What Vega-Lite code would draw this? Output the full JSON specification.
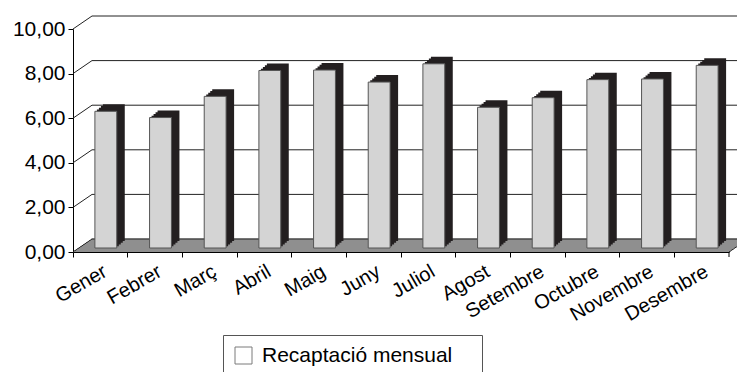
{
  "$schema": "https://vega.github.io/schema/vega-lite/v6.json",
  "autosize": {"type": "none"},
  "width": 656,
  "height": 223,
  "padding": {"left": 73, "top": 29, "right": 8, "bottom": 120},
  "background": "white",
  "config": {"font": "Liberation Sans", "view": {"stroke": null}},
  "datasets": {
    "mesos": [
      {"mes": "Gener", "valor": 6.13},
      {"mes": "Febrer", "valor": 5.85},
      {"mes": "Març", "valor": 6.80},
      {"mes": "Abril", "valor": 7.96},
      {"mes": "Maig", "valor": 7.98},
      {"mes": "Juny", "valor": 7.44},
      {"mes": "Juliol", "valor": 8.26},
      {"mes": "Agost", "valor": 6.31},
      {"mes": "Setembre", "valor": 6.74},
      {"mes": "Octubre", "valor": 7.55},
      {"mes": "Novembre", "valor": 7.58},
      {"mes": "Desembre", "valor": 8.19}
    ],
    "grid": [{"v": 0}, {"v": 2}, {"v": 4}, {"v": 6}, {"v": 8}, {"v": 10}],
    "serie": [{"s": "Recaptació mensual"}]
  },
  "layer": [
    {
      "data": {"name": "serie"},
      "mark": {"type": "square", "fill": "white", "size": 4, "yOffset": -6, "strokeWidth": 1},
      "encoding": {
        "x": {"datum": "Gener", "type": "nominal"},
        "y": {"datum": 0, "type": "quantitative", "scale": {"domain": [0, 10], "nice": false}},
        "stroke": {
          "field": "s", "type": "nominal",
          "scale": {"range": ["#444444"]},
          "legend": {
            "title": "\u00a0", "titleOrient": "right", "titleFontSize": 21, "titlePadding": 20,
            "orient": "none", "legendX": 150, "legendY": 306,
            "strokeColor": "#555555", "padding": 10, "fillColor": "white",
            "labelFontSize": 21, "labelColor": "black", "symbolSize": 289,
            "symbolType": "square", "symbolStrokeWidth": 1, "symbolFillColor": "white",
            "labelOffset": 8, "labelLimit": 400
          }
        }
      }
    },
    {"data": {"name": "serie"}, "mark": {"type": "rule", "color": "#8f8f8f", "strokeWidth": 2, "xOffset": 1.46, "x2Offset": 1.46, "yOffset": -1, "y2Offset": -1}, "encoding": {"x": {"datum": "Gener", "type": "nominal", "bandPosition": 0}, "x2": {"datum": "Desembre", "bandPosition": 1}, "y": {"datum": 0, "type": "quantitative"}, "y2": {"datum": 0}}},
    {"data": {"name": "serie"}, "mark": {"type": "rule", "color": "#8f8f8f", "strokeWidth": 2, "xOffset": 4.38, "x2Offset": 4.38, "yOffset": -3, "y2Offset": -3}, "encoding": {"x": {"datum": "Gener", "type": "nominal", "bandPosition": 0}, "x2": {"datum": "Desembre", "bandPosition": 1}, "y": {"datum": 0, "type": "quantitative"}, "y2": {"datum": 0}}},
    {"data": {"name": "serie"}, "mark": {"type": "rule", "color": "#8f8f8f", "strokeWidth": 2, "xOffset": 7.3, "x2Offset": 7.3, "yOffset": -5, "y2Offset": -5}, "encoding": {"x": {"datum": "Gener", "type": "nominal", "bandPosition": 0}, "x2": {"datum": "Desembre", "bandPosition": 1}, "y": {"datum": 0, "type": "quantitative"}, "y2": {"datum": 0}}},
    {"data": {"name": "serie"}, "mark": {"type": "rule", "color": "#8f8f8f", "strokeWidth": 2, "xOffset": 10.2, "x2Offset": 10.2, "yOffset": -7, "y2Offset": -7}, "encoding": {"x": {"datum": "Gener", "type": "nominal", "bandPosition": 0}, "x2": {"datum": "Desembre", "bandPosition": 1}, "y": {"datum": 0, "type": "quantitative"}, "y2": {"datum": 0}}},
    {"data": {"name": "serie"}, "mark": {"type": "rule", "color": "#8f8f8f", "strokeWidth": 2, "xOffset": 13.15, "x2Offset": 13.15, "yOffset": -9, "y2Offset": -9}, "encoding": {"x": {"datum": "Gener", "type": "nominal", "bandPosition": 0}, "x2": {"datum": "Desembre", "bandPosition": 1}, "y": {"datum": 0, "type": "quantitative"}, "y2": {"datum": 0}}},
    {"data": {"name": "serie"}, "mark": {"type": "rule", "color": "#8f8f8f", "strokeWidth": 2, "xOffset": 16.1, "x2Offset": 16.1, "yOffset": -11, "y2Offset": -11}, "encoding": {"x": {"datum": "Gener", "type": "nominal", "bandPosition": 0}, "x2": {"datum": "Desembre", "bandPosition": 1}, "y": {"datum": 0, "type": "quantitative"}, "y2": {"datum": 0}}},
    {"data": {"name": "serie"}, "mark": {"type": "rule", "color": "#8f8f8f", "strokeWidth": 2, "xOffset": 18.3, "x2Offset": 18.3, "yOffset": -12.5, "y2Offset": -12.5}, "encoding": {"x": {"datum": "Gener", "type": "nominal", "bandPosition": 0}, "x2": {"datum": "Desembre", "bandPosition": 1}, "y": {"datum": 0, "type": "quantitative"}, "y2": {"datum": 0}}},
    {
      "data": {"name": "grid"},
      "mark": {"type": "rule", "color": "#222222", "strokeWidth": 1, "xOffset": 19, "x2Offset": 19, "yOffset": -13, "y2Offset": -13},
      "encoding": {
        "x": {"datum": "Gener", "type": "nominal", "bandPosition": 0},
        "x2": {"datum": "Desembre", "bandPosition": 1},
        "y": {"field": "v", "type": "quantitative"},
        "y2": {"field": "v"}
      }
    },
    {
      "data": {"name": "grid"},
      "mark": {"type": "rule", "color": "#222222", "strokeWidth": 1, "x2Offset": 19, "y2Offset": -13},
      "encoding": {
        "x": {"datum": "Gener", "type": "nominal", "bandPosition": 0},
        "x2": {"datum": "Gener", "bandPosition": 0},
        "y": {"field": "v", "type": "quantitative"},
        "y2": {"field": "v"}
      }
    },
    {
      "data": {"name": "serie"},
      "mark": {"type": "rule", "color": "#222222", "strokeWidth": 1, "x2Offset": 19, "y2Offset": -13},
      "encoding": {
        "x": {"datum": "Desembre", "type": "nominal", "bandPosition": 1},
        "x2": {"datum": "Desembre", "bandPosition": 1},
        "y": {"datum": 0, "type": "quantitative"},
        "y2": {"datum": 0}
      }
    },
    {
      "data": {"name": "serie"},
      "mark": {"type": "rule", "color": "black", "strokeWidth": 1, "y2Offset": 5},
      "encoding": {
        "x": {"datum": "Desembre", "type": "nominal", "bandPosition": 1},
        "y": {"datum": 0, "type": "quantitative"},
        "y2": {"datum": 0}
      }
    },
    {"data": {"name": "mesos"}, "mark": {"type": "bar", "color": "#231f20", "width": {"band": 0.4}, "xOffset": 7.5, "yOffset": -5.75, "y2Offset": -5.75}, "encoding": {"x": {"field": "mes", "type": "nominal", "sort": null}, "y": {"field": "valor", "type": "quantitative"}}},
    {"data": {"name": "mesos"}, "mark": {"type": "bar", "color": "#231f20", "width": {"band": 0.4}, "xOffset": 9.5, "yOffset": -7.5, "y2Offset": -7.5}, "encoding": {"x": {"field": "mes", "type": "nominal", "sort": null}, "y": {"field": "valor", "type": "quantitative"}}},
    {"data": {"name": "mesos"}, "mark": {"type": "bar", "color": "#231f20", "width": {"band": 0.4}, "xOffset": 11.5, "yOffset": -9.25, "y2Offset": -9.25}, "encoding": {"x": {"field": "mes", "type": "nominal", "sort": null}, "y": {"field": "valor", "type": "quantitative"}}},
    {"data": {"name": "mesos"}, "mark": {"type": "bar", "color": "#231f20", "width": {"band": 0.4}, "xOffset": 13.5, "yOffset": -11, "y2Offset": -11}, "encoding": {"x": {"field": "mes", "type": "nominal", "sort": null}, "y": {"field": "valor", "type": "quantitative"}}},
    {
      "data": {"name": "mesos"},
      "mark": {"type": "bar", "fill": "#d4d4d4", "stroke": "#555555", "strokeWidth": 1, "width": {"band": 0.4}, "xOffset": 5.5, "yOffset": -4, "y2Offset": -4},
      "encoding": {
        "x": {
          "field": "mes", "type": "nominal", "sort": null,
          "scale": {"domain": ["Gener", "Febrer", "Març", "Abril", "Maig", "Juny", "Juliol", "Agost", "Setembre", "Octubre", "Novembre", "Desembre"], "paddingInner": 0, "paddingOuter": 0},
          "axis": {
            "title": null, "bandPosition": 0, "labelOffset": 0, "labelAngle": -30,
            "labelAlign": "right", "labelBaseline": "top", "labelFontSize": 20,
            "labelColor": "black", "labelPadding": 4, "tickSize": 5, "tickColor": "black",
            "domainColor": "black"
          }
        },
        "y": {
          "field": "valor", "type": "quantitative",
          "axis": {
            "title": null, "values": [0, 2, 4, 6, 8, 10], "grid": false,
            "labelExpr": "replace(format(datum.value, '.2f'), '.', ',')",
            "labelFontSize": 21, "labelColor": "black", "labelPadding": 3,
            "tickSize": 5, "tickColor": "black", "domainColor": "black"
          }
        }
      }
    }
  ]
}
